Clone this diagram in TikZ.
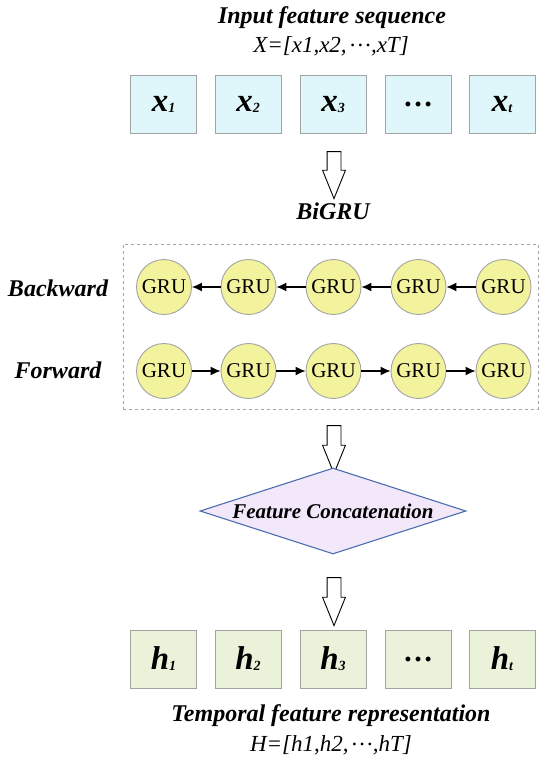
\documentclass[tikz,border=0pt]{standalone}
\usepackage{fontspec}
\setmainfont{Liberation Serif}
\usetikzlibrary{shapes.geometric,shapes.arrows,arrows.meta}
\definecolor{xfill}{HTML}{DFF7FA}
\definecolor{hfill}{HTML}{EBF2DA}
\definecolor{grufill}{HTML}{F3F39E}
\definecolor{dfill}{HTML}{F3E8FA}
\definecolor{dline}{HTML}{4A6EAE}
\definecolor{bline}{HTML}{A3A3A3}
\newcommand{\seqlab}[2]{{\fontsize{33}{33}\selectfont\bfseries\itshape #1\raisebox{-1pt}{\fontsize{14}{14}\selectfont #2}}}
\newcommand{\mydots}{\raisebox{0.25em}{…}}
\tikzset{
  xbox/.style={draw=bline, line width=0.9pt, fill=xfill, minimum width=66pt, minimum height=58pt, inner sep=0pt},
  hbox/.style={draw=bline, line width=0.9pt, fill=hfill, minimum width=66pt, minimum height=58pt, inner sep=0pt},
  gru/.style={circle, draw=bline, line width=0.9pt, fill=grufill, minimum size=55pt, inner sep=0pt, font=\fontsize{21}{21}\selectfont},
  hollow/.style={single arrow, draw=black, line width=0.9pt, fill=white, shape border rotate=270, inner sep=6.5pt, single arrow head extend=4.5pt, single arrow tip angle=44, minimum height=47pt, minimum width=0pt},
  title/.style={font=\fontsize{24}{24}\selectfont\bfseries\itshape},
  formula/.style={font=\fontsize{23}{23}\selectfont\itshape},
  lab/.style={font=\fontsize{24}{24}\selectfont\bfseries\itshape},
  link/.style={-{Latex[length=10pt,width=9pt]}, line width=1.3pt, black},
}
\begin{document}
\begin{tikzpicture}[x=1pt,y=-1pt]
\useasboundingbox (0,0) rectangle (550,766);
% top titles
\node[title] (t1) at (332,18) {Input feature sequence};
\node[formula] (t2) at (331,46) {X=[x1,x2,\,\mydots,xT]};
% input boxes
\node[xbox] (x1) at (163.5,104) {\seqlab{x}{1}};
\node[xbox] (x2) at (248,104) {\seqlab{x}{2}};
\node[xbox] (x3) at (333,104) {\seqlab{x}{3}};
\node[xbox] (x4) at (418,104) {{\fontsize{30}{30}\selectfont\bfseries …}};
\node[xbox] (x5) at (502,104) {\seqlab{x}{t}};
% arrow 1
\node[hollow] (a1) at (334,166.5) {};
\node[title] (bigru) at (333,211) {BiGRU};
% dashed box
\node[draw=bline, dashed, line width=0.8pt, minimum width=415pt, minimum height=165pt, inner sep=0pt] (dbox) at (330.5,326.5) {};
% labels
\node[lab] (bw) at (58,288) {Backward};
\node[lab] (fw) at (58,370) {Forward};
% GRU rows
\foreach \i/\xx in {1/164,2/248.5,3/333.5,4/418.5,5/503.5}{
  \node[gru] (b\i) at (\xx,287) {GRU};
  \node[gru] (f\i) at (\xx,371) {GRU};
}
\foreach \i/\j in {1/2,2/3,3/4,4/5}{
  \draw[link] (b\j) -- (b\i);
  \draw[link] (f\i) -- (f\j);
}
% arrow 2
\node[hollow, minimum height=48pt] (a2) at (334,441) {};
% diamond
\node[diamond, draw=dline, line width=1.1pt, fill=dfill, minimum width=266pt, minimum height=86pt, inner sep=0pt, aspect=3.1, font=\fontsize{21}{21}\selectfont\bfseries\itshape] (cat) at (333,511) {Feature Concatenation};
% arrow 3
\node[hollow, minimum height=48pt] (a3) at (334,593) {};
% output boxes
\node[hbox] (h1) at (163.5,659) {\seqlab{h}{1}};
\node[hbox] (h2) at (248,659) {\seqlab{h}{2}};
\node[hbox] (h3) at (333,659) {\seqlab{h}{3}};
\node[hbox] (h4) at (418,659) {{\fontsize{30}{30}\selectfont\bfseries …}};
\node[hbox] (h5) at (502,659) {\seqlab{h}{t}};
% bottom titles
\node[title] (b1t) at (331,716) {Temporal feature representation};
\node[formula] (b2t) at (331,745) {H=[h1,h2,\,\mydots,hT]};
\end{tikzpicture}
\end{document}
